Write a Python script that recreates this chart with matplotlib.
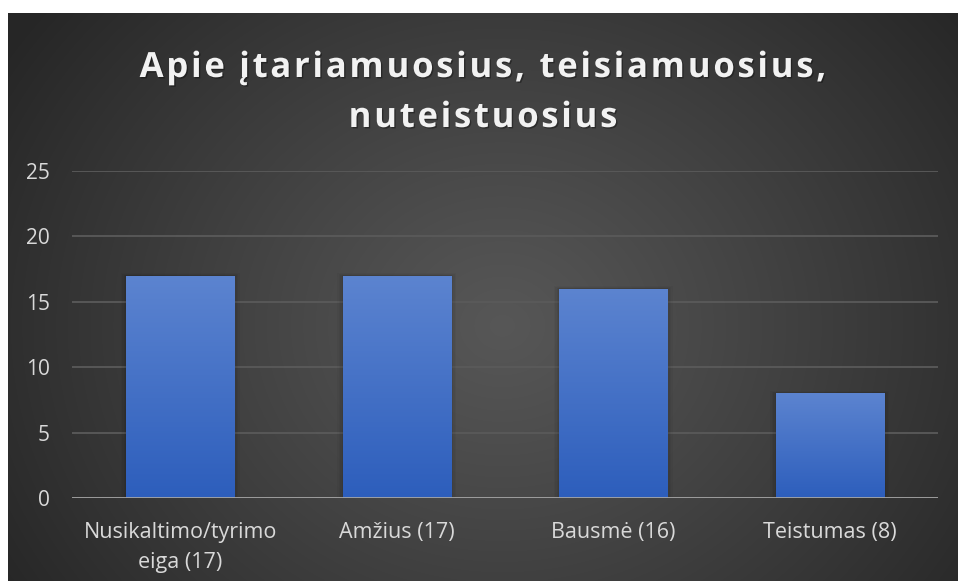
import numpy as np
import matplotlib
matplotlib.use("Agg")
import matplotlib.pyplot as plt
from matplotlib.patches import Rectangle
from matplotlib.font_manager import FontProperties
import matplotlib.patheffects as pe

categories = ["Nusikaltimo/tyrimo\neiga (17)", "Amžius (17)", "Bausmė (16)", "Teistumas (8)"]
values = [17, 17, 16, 8]
yticks = [0, 5, 10, 15, 20, 25]
title_lines = ["Apie įtariamuosius, teisiamuosius,", "nuteistuosius"]

W, H = 958, 581
fig = plt.figure(figsize=(W / 100, H / 100), dpi=100, facecolor="white")

# dark radial-gradient background panel
bx0, by0 = 8, 13
bg = fig.add_axes([bx0 / W, 0, (W - bx0) / W, (H - by0) / H])
bg.set_axis_off()
gw, gh = W - bx0, H - by0
yy, xx = np.mgrid[0:gh, 0:gw]
cx, cy = gw * 0.52, gh * 0.55
r = np.sqrt(((xx - cx) / (gw * 0.62)) ** 2 + ((yy - cy) / (gh * 0.9)) ** 2)
r = np.clip(r, 0, 1)
lo, hi = 0.15, 0.34
val = hi - (hi - lo) * r ** 1.1
img = np.dstack([val, val, val])
bg.imshow(img, extent=[0, gw, gh, 0], aspect="auto", interpolation="bilinear")
bg.set_xlim(0, gw)
bg.set_ylim(gh, 0)

# plot area
px0, px1 = 72, 938
py_top, py_bot = 171, 498
ymax = 25
ax = fig.add_axes([px0 / W, (H - py_bot) / H, (px1 - px0) / W, (py_bot - py_top) / H])
ax.patch.set_alpha(0)
x = np.arange(len(categories))
for t in yticks:
    if t == 0:
        continue
    ax.axhline(t, color="#5a5a5a", lw=1.3, zorder=1)
ax.axhline(0, color="#a6a6a6", lw=2.0, zorder=5)

bw = 0.5
top_col = np.array([0x5c, 0x84, 0xd0]) / 255
bot_col = np.array([0x2d, 0x5e, 0xbc]) / 255
grad = np.linspace(0, 1, 256)[:, None]
gimg = top_col[None, None, :] * (1 - grad[..., None]) + bot_col[None, None, :] * grad[..., None]
for xi, v in zip(x, values):
    # soft shadow
    for k, a in [(0.10, 0.03), (0.07, 0.04), (0.04, 0.045), (0.02, 0.05)]:
        ax.add_patch(Rectangle((xi - bw / 2 - k * 0.25, 0), bw + k * 0.5, v + k * 2,
                               facecolor="black", alpha=a, lw=0, zorder=2))
    rect = Rectangle((xi - bw / 2, 0), bw, v, facecolor="none", lw=0, zorder=3)
    ax.add_patch(rect)
    im = ax.imshow(gimg, extent=[xi - bw / 2, xi + bw / 2, 0, v], aspect="auto",
                   zorder=3, interpolation="bilinear")
    im.set_clip_path(rect)
ax.set_xlim(-0.5, len(categories) - 0.5)
ax.set_ylim(0, ymax)

for s in ax.spines.values():
    s.set_visible(False)
ax.set_xticks(x)
ax.set_xticklabels(categories, fontsize=15.5, color="#d9d9d9", family="Open Sans",
                   linespacing=1.6)
ax.set_yticks(yticks)
ax.set_yticklabels([str(t) for t in yticks], fontsize=15, color="#d9d9d9", family="Open Sans")
ax.tick_params(axis="both", length=0)
ax.tick_params(axis="x", pad=17)
ax.tick_params(axis="y", pad=16)

# title with letter spacing
prop = FontProperties(family="Open Sans", weight="bold", size=25)
renderer = fig.canvas.get_renderer()
sp = 2.7  # px letter spacing


def wpx(s):
    if not s:
        return 0.0
    w, h, d = renderer.get_text_width_height_descent(s + "|", prop, ismath=False)
    w2, _, _ = renderer.get_text_width_height_descent("|", prop, ismath=False)
    return w - w2


baselines = [77, 127]
for line, yb in zip(title_lines, baselines):
    total = wpx(line) + sp * (len(line) - 1)
    x0 = (W + bx0) / 2 - total / 2
    for i, ch in enumerate(line):
        if ch == " ":
            continue
        xp = x0 + wpx(line[:i]) + sp * i
        fig.text(xp / W, 1 - yb / H, ch, ha="left", va="baseline", fontproperties=prop,
                 color="#f2f2f2",
                 path_effects=[pe.withSimplePatchShadow(offset=(1, -1), shadow_rgbFace="black", alpha=0.35)])

fig.savefig("out.png", dpi=100, facecolor="white")
